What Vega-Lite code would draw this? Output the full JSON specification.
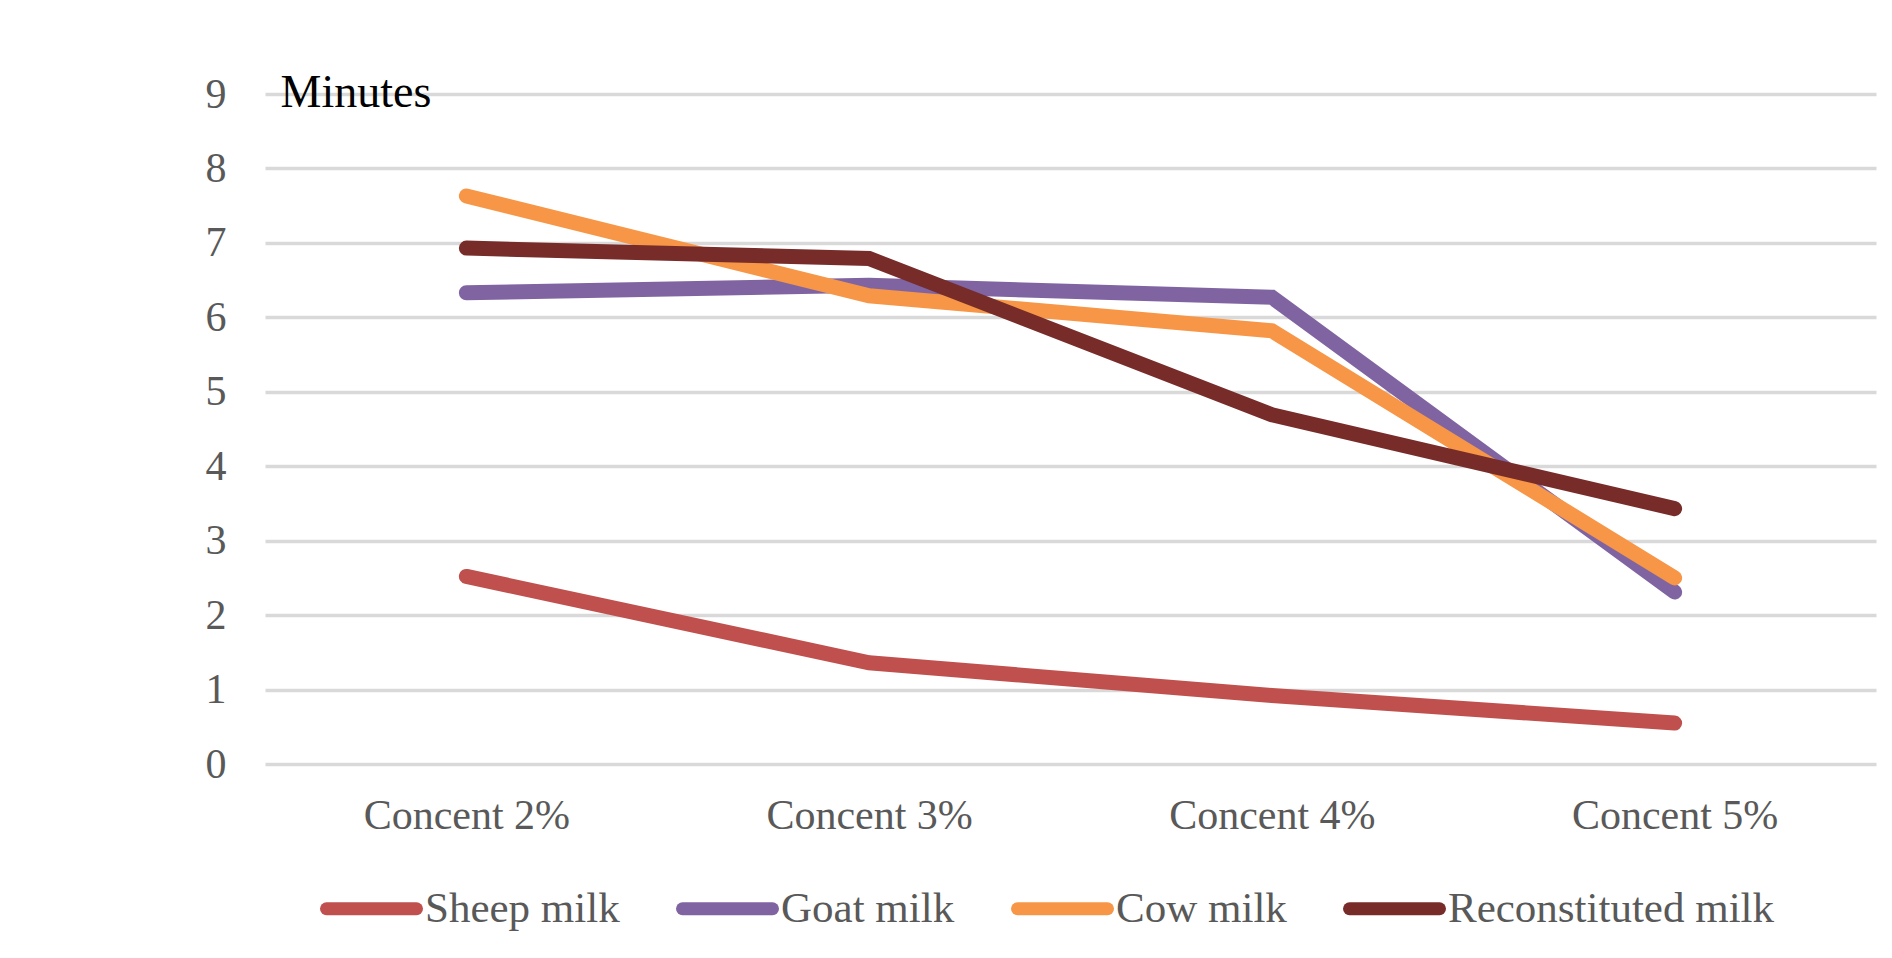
{
  "$schema": "https://vega.github.io/schema/vega-lite/v6.json",
  "autosize": "none",
  "width": 1611,
  "height": 670,
  "padding": {"left": 265, "top": 94, "right": 16, "bottom": 194},
  "background": "white",
  "config": {"view": {"stroke": null}},
  "data": {
    "values": [
      {"concentration": "Concent 2%", "milk": "Sheep milk", "minutes": 2.52},
      {"concentration": "Concent 3%", "milk": "Sheep milk", "minutes": 1.36},
      {"concentration": "Concent 4%", "milk": "Sheep milk", "minutes": 0.92},
      {"concentration": "Concent 5%", "milk": "Sheep milk", "minutes": 0.55},
      {"concentration": "Concent 2%", "milk": "Goat milk", "minutes": 6.33},
      {"concentration": "Concent 3%", "milk": "Goat milk", "minutes": 6.43},
      {"concentration": "Concent 4%", "milk": "Goat milk", "minutes": 6.27},
      {"concentration": "Concent 5%", "milk": "Goat milk", "minutes": 2.31},
      {"concentration": "Concent 2%", "milk": "Cow milk", "minutes": 7.63},
      {"concentration": "Concent 3%", "milk": "Cow milk", "minutes": 6.29},
      {"concentration": "Concent 4%", "milk": "Cow milk", "minutes": 5.82},
      {"concentration": "Concent 5%", "milk": "Cow milk", "minutes": 2.5},
      {"concentration": "Concent 2%", "milk": "Reconstituted milk", "minutes": 6.93},
      {"concentration": "Concent 3%", "milk": "Reconstituted milk", "minutes": 6.79},
      {"concentration": "Concent 4%", "milk": "Reconstituted milk", "minutes": 4.69},
      {"concentration": "Concent 5%", "milk": "Reconstituted milk", "minutes": 3.43}
    ]
  },
  "mark": {"type": "line", "strokeWidth": 15, "strokeCap": "round"},
  "encoding": {
    "x": {
      "field": "concentration",
      "type": "ordinal",
      "sort": null,
      "scale": {"type": "point", "padding": 0.5},
      "axis": {
        "title": null,
        "labelAngle": 0,
        "labelLimit": 600,
        "domain": false,
        "ticks": false,
        "grid": false,
        "labelFont": "Liberation Serif",
        "labelFontSize": 42,
        "labelColor": "#595959",
        "labelPadding": 31
      }
    },
    "y": {
      "field": "minutes",
      "type": "quantitative",
      "scale": {"domain": [0, 9], "nice": false},
      "axis": {
        "values": [0, 1, 2, 3, 4, 5, 6, 7, 8, 9],
        "grid": true,
        "gridColor": "#d9d9d9",
        "gridWidth": 3.5,
        "domain": false,
        "ticks": false,
        "labelFont": "Liberation Serif",
        "labelFontSize": 42,
        "labelColor": "#595959",
        "labelPadding": 39,
        "title": "Minutes",
        "titleAngle": 0,
        "titleAlign": "left",
        "titleBaseline": "alphabetic",
        "titleX": 15,
        "titleY": 12,
        "titleFont": "Liberation Serif",
        "titleFontSize": 46,
        "titleFontWeight": "normal",
        "titleColor": "#000000"
      }
    },
    "color": {
      "field": "milk",
      "type": "nominal",
      "sort": ["Sheep milk", "Goat milk", "Cow milk", "Reconstituted milk"],
      "scale": {
        "domain": ["Sheep milk", "Goat milk", "Cow milk", "Reconstituted milk"],
        "range": ["#C0504D", "#8064A2", "#F79646", "#772C2A"]
      },
      "legend": {
        "title": null,
        "orient": "none",
        "legendX": 55,
        "legendY": 763,
        "direction": "horizontal",
        "columns": 4,
        "padding": 0,
        "symbolType": "stroke",
        "symbolSize": 8100,
        "symbolStrokeWidth": 13,
        "labelFont": "Liberation Serif",
        "labelFontSize": 43,
        "labelColor": "#595959",
        "labelOffset": 2,
        "columnPadding": 36,
        "labelLimit": 600,
        "encode": {"symbols": {"update": {"strokeCap": {"value": "round"}}}}
      }
    }
  }
}
